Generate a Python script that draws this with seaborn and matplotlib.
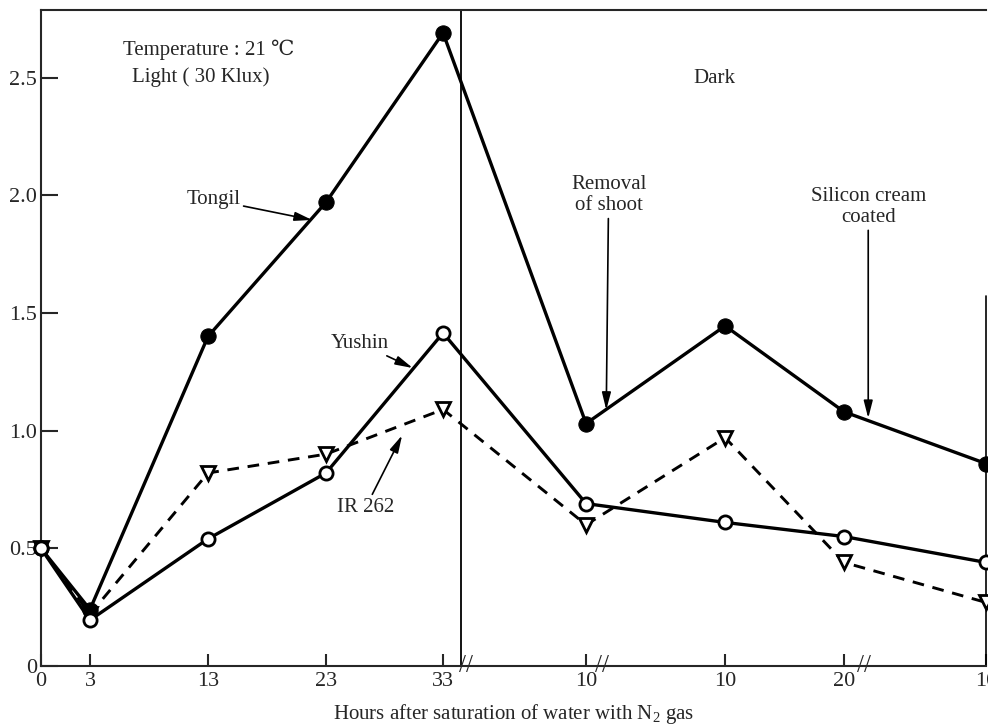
import matplotlib
matplotlib.use("Agg")
import matplotlib.pyplot as plt
import seaborn as sns
import pandas as pd


# tick labels along the broken hour axis and where each sits on the axis
hour_labels = ['0', '3', '13', '23', '33', '10', '10', '20', '10']
hour_pos = [0, 4.15, 14.15, 24.15, 34.07, 46.19, 57.97, 68.05, 80.08]

# values
tongil = [0.50, 0.24, 1.40, 1.97, 2.69, 1.03, 1.445, 1.08, 0.86]
yushin = [0.50, 0.195, 0.54, 0.82, 1.415, 0.69, 0.61, 0.55, 0.44]
ir262 = [0.50, 0.22, 0.82, 0.90, 1.09, 0.60, 0.97, 0.44, 0.27]

light_dark_split = 35.6
break_pos = [36.0, 47.5, 69.7]

df = pd.DataFrame({'pos': hour_pos * 3,
                   'value': tongil + yushin + ir262,
                   'variety': ['Tongil'] * 9 + ['Yushin'] * 9 + ['IR 262'] * 9})

sns.set_style('ticks')
plt.rcParams['font.family'] = ['Liberation Serif', 'DejaVu Serif']
plt.rcParams['mathtext.fontset'] = 'custom'
plt.rcParams['mathtext.rm'] = 'Liberation Serif'

fig = plt.figure(figsize=(9.88, 7.27), dpi=100)
ax = fig.add_axes([41 / 988, 61 / 727, 945 / 988, 656 / 727])

sns.lineplot(data=df[df.variety == 'Tongil'], x='pos', y='value', ax=ax, sort=False,
             color='black', lw=2.4, marker='o', markersize=11,
             markerfacecolor='black', markeredgecolor='black', clip_on=False, zorder=4)
sns.lineplot(data=df[df.variety == 'Yushin'], x='pos', y='value', ax=ax, sort=False,
             color='black', lw=2.4, marker='o', markersize=9.5,
             markerfacecolor='white', markeredgecolor='black', markeredgewidth=2,
             clip_on=False, zorder=4)
sns.lineplot(data=df[df.variety == 'IR 262'], x='pos', y='value', ax=ax, sort=False,
             color='black', lw=2.1, linestyle=(0, (4, 3)), marker='v', markersize=10,
             markerfacecolor='white', markeredgecolor='black', markeredgewidth=2,
             clip_on=False, zorder=3)

ax.set_xlim(0, 80.08)
ax.set_ylim(0, 2.787)
ax.set_xticks(hour_pos)
ax.set_xticklabels(hour_labels)
ax.set_yticks([0, 0.5, 1.0, 1.5, 2.0, 2.5])
ax.set_yticklabels(['0', '0.5', '1.0', '1.5', '2.0', '2.5'])
ax.tick_params(axis='y', direction='in', length=12, width=1.5, labelsize=16, pad=3)
ax.tick_params(axis='x', direction='in', length=9, width=1.5, labelsize=16, pad=4)
ax.set_xlabel('Hours after saturation of water with N$_2$ gas', fontsize=15, labelpad=8)
ax.set_ylabel('')

for side in ['left', 'bottom', 'top']:
    ax.spines[side].set_linewidth(1.5)
ax.spines['right'].set_visible(False)
ax.axvline(80.08, ymin=0, ymax=1.57 / 2.787, color='black', lw=1.2, clip_on=False)

# light / dark boundary
ax.axvline(light_dark_split, color='black', lw=1.3)

# axis break marks
for b in break_pos:
    ax.text(b, 0, '//', fontsize=18, ha='center', va='center',
            clip_on=False, zorder=5)

ax.text(6.95, 2.617, 'Temperature : 21 \u2103', fontsize=15, ha='left', va='center')
ax.text(7.7, 2.502, 'Light ( 30 Klux)', fontsize=15, ha='left', va='center')
ax.text(57.1, 2.498, 'Dark', fontsize=15, ha='center', va='center')

arrow = dict(arrowstyle='-|>,head_length=0.7,head_width=0.18', color='black', lw=1.2,
             shrinkA=0, shrinkB=0)
ax.annotate('Tongil', xy=(22.97, 1.895), xytext=(14.6, 1.98), fontsize=15,
            ha='center', va='center', arrowprops=arrow)
ax.annotate('Yushin', xy=(31.5, 1.266), xytext=(27.0, 1.372), fontsize=15,
            ha='center', va='center', arrowprops=arrow)
ax.annotate('IR 262', xy=(30.6, 0.98), xytext=(25.1, 0.675), fontsize=15,
            ha='left', va='center', arrowprops=arrow)
ax.annotate('Removal\nof shoot', xy=(47.9, 1.088), xytext=(48.1, 2.0), fontsize=15,
            ha='center', va='center', linespacing=1.15, arrowprops=arrow)
ax.annotate('Silicon cream\ncoated', xy=(70.1, 1.053), xytext=(70.1, 1.95), fontsize=15,
            ha='center', va='center', linespacing=1.15, arrowprops=arrow)

fig.savefig('out.png', dpi=100)
